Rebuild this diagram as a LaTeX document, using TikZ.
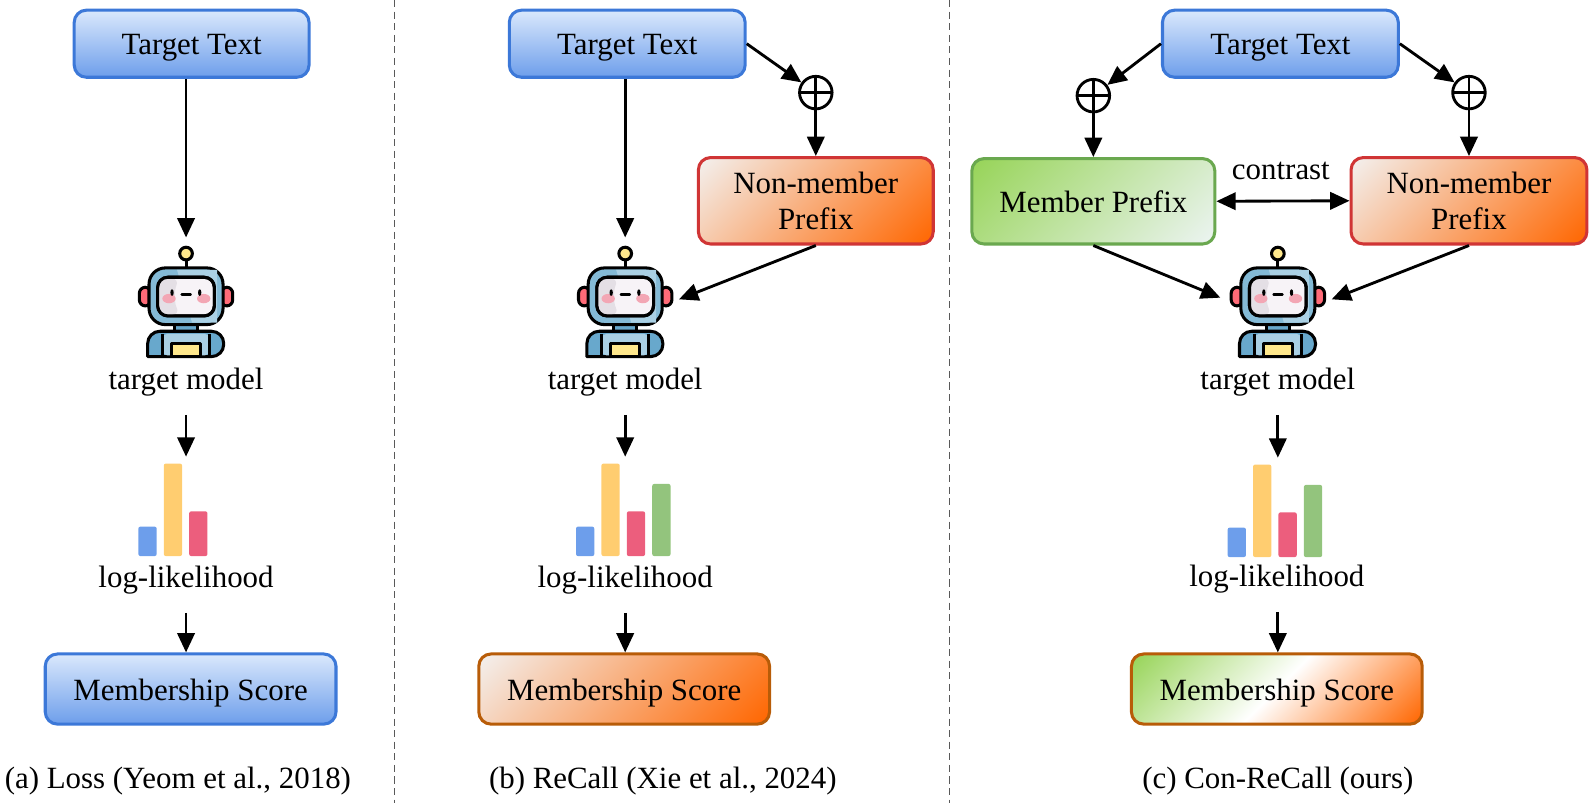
\documentclass[tikz,border=0pt]{standalone}
\usepackage{fontspec}
\setmainfont{Liberation Serif}
\usetikzlibrary{arrows.meta,positioning}
\definecolor{boxblue}{RGB}{60,120,216}
\definecolor{lightblue}{RGB}{218,232,252}
\definecolor{midblue}{RGB}{109,158,235}
\definecolor{boxred}{RGB}{208,53,53}
\definecolor{boxgreen}{RGB}{106,168,79}
\definecolor{leafgreen}{RGB}{151,212,88}
\definecolor{boxbrown}{RGB}{184,92,8}
\definecolor{deeporange}{RGB}{255,102,0}
\definecolor{palegray}{RGB}{243,240,238}
\definecolor{palegreen}{RGB}{236,244,242}
\definecolor{baryellow}{RGB}{255,205,112}
\definecolor{barred}{RGB}{236,94,125}
\definecolor{bargreen}{RGB}{147,196,125}
\definecolor{robotframe}{RGB}{132,186,214}
\definecolor{robotdark}{RGB}{104,168,204}
\definecolor{robotlight}{RGB}{170,208,228}
\definecolor{robotear}{RGB}{255,107,120}
\definecolor{robotcheek}{RGB}{243,166,180}
\definecolor{robotscreen}{RGB}{247,243,247}
\definecolor{robotshade}{RGB}{228,223,229}
\definecolor{robottag}{RGB}{255,232,140}
\pgfdeclarehorizontalshading{prefixfill}{100bp}{color(0bp)=(palegray); color(15bp)=(palegray); color(85bp)=(deeporange); color(100bp)=(deeporange)}
\pgfdeclarehorizontalshading{memberfill}{100bp}{color(0bp)=(leafgreen); color(15bp)=(leafgreen); color(85bp)=(palegreen); color(100bp)=(palegreen)}
\pgfdeclarehorizontalshading{scorefill}{100bp}{color(0bp)=(palegray); color(15bp)=(palegray); color(85bp)=(deeporange); color(100bp)=(deeporange)}
\pgfdeclarehorizontalshading{contrastfill}{100bp}{color(0bp)=(leafgreen); color(15bp)=(leafgreen); color(50bp)=(white); color(85bp)=(deeporange); color(100bp)=(deeporange)}
\tikzset{
	roundbox/.style={
		rectangle,
		rounded corners=6pt,
		line width=1.5pt,
		align=center,
		inner sep=0pt,
	},
	bluebox/.style={
		roundbox,
		draw=boxblue,
		top color=lightblue,
		bottom color=midblue,
	},
	lowtext/.style={
		text height=14pt,
		text depth=3pt,
	},
	prefixbox/.style={
		roundbox,
		draw=boxred,
		shade,
		shading=prefixfill,
		shading angle=-45,
	},
	memberbox/.style={
		roundbox,
		draw=boxgreen,
		shade,
		shading=memberfill,
		shading angle=-45,
	},
	scorebox/.style={
		roundbox,
		lowtext,
		draw=boxbrown,
		shade,
		shading=#1,
		shading angle=-45,
	},
	link/.style={
		-{Triangle[length=9.5pt,width=8.5pt]},
		line width=1.4pt,
	},
	biglink/.style={
		{Triangle[length=9.5pt,width=8.5pt]}-{Triangle[length=9.5pt,width=8.5pt]},
		line width=1.4pt,
	},
	divider/.style={
		dash pattern=on 3.5pt off 2.2pt,
		gray!70!black,
		line width=0.8pt,
	},
	oplus/.style={
		circle,
		draw,
		line width=1.4pt,
		minimum size=16pt,
		inner sep=0pt,
		path picture={
			\draw[line width=1.4pt] (path picture bounding box.north) -- (path picture bounding box.south);
			\draw[line width=1.4pt] (path picture bounding box.west) -- (path picture bounding box.east);
		},
	},
	tag/.style={
		inner sep=0pt,
		text height=10pt,
		text depth=3pt,
	},
	robotbox/.style={
		inner sep=0pt,
		minimum width=46pt,
		minimum height=54pt,
	},
	barsbox/.style={
		inner sep=0pt,
		minimum width=46.5pt,
		minimum height=45.5pt,
	},
	bar/.style={
		rounded corners=1pt,
	},
	pics/robot/.style={
		code={
			\begin{scope}[x=0.164pt,y=-0.164pt,shift={(-197,-216)},line width=1.5pt,line join=round]
				\draw (197,90) -- (197,114);
				\filldraw[fill=robottag] (197,71) circle [radius=19];
				\filldraw[fill=robotear,rounded corners=3pt] (57,172) rectangle (92,228);
				\filldraw[fill=robotear,rounded corners=3pt] (302,172) rectangle (337,228);
				\filldraw[fill=robotdark] (162,280) rectangle (232,304);
				\filldraw[fill=robotdark,rounded corners=6pt] (82,380) -- (82,304) -- (310,304) -- (310,380) [sharp corners] -- cycle;
				\fill[robotlight,rounded corners=2pt] (128,312) -- (266,312) -- (266,376) -- (128,376) -- cycle;
				\draw (126,312) -- (126,380);
				\draw (268,312) -- (268,380);
				\filldraw[fill=robottag] (154,342) rectangle (240,380);
				\filldraw[fill=robotframe,rounded corners=8pt] (86,114) rectangle (308,284);
				\fill[robotlight] (170,120) -- (290,120) -- (290,278) -- (215,278) -- cycle;
				\filldraw[fill=robotscreen,rounded corners=5pt] (112,142) rectangle (282,258);
				\fill[robotshade,rounded corners=4pt] (116,146) -- (178,146) .. controls (162,180) and (162,220) .. (180,254) -- (116,254) -- cycle;
				\draw[line width=1.5pt,rounded corners=5pt] (112,142) rectangle (282,258);
				\fill[robotcheek] (146,206) ellipse [x radius=20,y radius=14];
				\fill[robotcheek] (250,206) ellipse [x radius=20,y radius=14];
				\fill (155,188) ellipse [x radius=5,y radius=10];
				\fill (238,188) ellipse [x radius=5,y radius=10];
				\draw[line width=1.2pt,line cap=round] (184,194) -- (211,194);
			\end{scope}
		}
	},
	pics/bars/.style={
		code={
			\fill[bar,midblue] (0,0) rectangle (18,-29);
			\fill[bar,baryellow] (25,0) rectangle (43,-91);
			\fill[bar,barred] (50,0) rectangle (68,-44);
		}
	},
}
\begin{document}
\begin{tikzpicture}[x=0.5pt,y=-0.5pt,font=\fontsize{15.2}{18}\selectfont]
	\useasboundingbox (0,0) rectangle (1568,792);

	\coordinate (topA) at (388,0);
	\coordinate (botA) at (388,790);
	\coordinate (topB) at (934,0);
	\coordinate (botB) at (934,790);
	\draw[divider] (topA) -- (botA);
	\draw[divider] (topB) -- (botB);

	% first column
	\node[bluebox,lowtext,minimum width=115.5pt,minimum height=33pt] (text1) at (188.5,43) {Target Text};
	\node[robotbox] (robot1) at (183,297) {};
	\pic at (robot1) {robot};
	\node[tag,below=5.5pt of robot1] (model1) {target model};
	\node[barsbox,below=33pt of model1] (bars1) {};
	\pic at (bars1.south west) {bars};
	\node[tag,below=5.5pt of bars1] (loglik1) {log-likelihood};
	\node[bluebox,lowtext,minimum width=143pt,minimum height=34.5pt,below=28.5pt of loglik1,xshift=2.25pt] (score1) {Membership Score};
	\node (cap1) at (175,768) {(a) Loss (Yeom et al., 2018)};

	\draw[link,shorten >=4.5pt] (robot1 |- text1.south) -- (robot1.north);
	\draw[link,shorten <=9.5pt,shorten >=3pt] (robot1 |- model1.south) -- (robot1 |- bars1.north);
	\draw[link,shorten <=9pt] (robot1 |- loglik1.south) -- (robot1 |- score1.north);

	% second column
	\node[bluebox,lowtext,minimum width=116pt,minimum height=33pt] (text2) at (617,43) {Target Text};
	\node[prefixbox,minimum width=115.5pt,minimum height=42.5pt] (prefix2) at (802.5,197.5) {Non-member\\Prefix};
	\node[oplus,above=22.5pt of prefix2] (plus2) {};
	\node[robotbox] (robot2) at (615,297) {};
	\pic at (robot2) {robot};
	\node[tag,below=5.5pt of robot2] (model2) {target model};
	\node[barsbox,below=33pt of model2,xshift=-0.75pt] (bars2) {};
	\pic at (bars2.south west) {bars};
	\fill[bar,bargreen] ([xshift=37.5pt]bars2.south west) rectangle ++(18,-71);
	\node[tag,below=5.5pt of bars2,xshift=0.75pt] (loglik2) {log-likelihood};
	\node[scorebox=scorefill,minimum width=143pt,minimum height=34.5pt,below=28.5pt of loglik2,xshift=-0.5pt] (score2) {Membership Score};
	\node (cap2) at (652,768) {(b) ReCall (Xie et al., 2024)};

	\draw[link,shorten >=4.5pt] (robot2 |- text2.south) -- (robot2.north);
	\draw[link] (text2.east) -- (plus2);
	\draw[link] (plus2) -- (plus2 |- prefix2.north);
	\draw[link,shorten >=3.5pt] (prefix2.south) -- (robot2.east);
	\draw[link,shorten <=9.5pt,shorten >=3pt] (robot2 |- model2.south) -- (robot2 |- bars2.north);
	\draw[link,shorten <=9pt] (robot2 |- loglik2.south) -- (robot2 |- score2.north);

	% third column
	\node[bluebox,lowtext,minimum width=116pt,minimum height=33pt] (text3) at (1259.5,43) {Target Text};
	\node[memberbox,minimum width=119.5pt,minimum height=42pt] (member3) at (1075.5,198) {Member Prefix};
	\node[prefixbox,minimum width=116pt,minimum height=42.5pt] (prefix3) at (1445,197.5) {Non-member\\Prefix};
	\node[oplus,above=21.5pt of member3] (plusm3) {};
	\node[oplus,above=22.5pt of prefix3] (plusp3) {};
	\node[robotbox] (robot3) at (1257,297) {};
	\pic at (robot3) {robot};
	\node[tag,below=5.5pt of robot3] (model3) {target model};
	\node[barsbox,below=33.5pt of model3,xshift=-1.25pt] (bars3) {};
	\pic at (bars3.south west) {bars};
	\fill[bar,bargreen] ([xshift=37.5pt]bars3.south west) rectangle ++(18,-71);
	\node[tag,below=4.5pt of bars3,xshift=0.75pt] (loglik3) {log-likelihood};
	\node[scorebox=contrastfill,minimum width=143pt,minimum height=34.5pt,below=29pt of loglik3] (score3) {Membership Score};
	\node (cap3) at (1257,768) {(c) Con-ReCall (ours)};

	\draw[link] (text3.west) -- (plusm3);
	\draw[link] (text3.east) -- (plusp3);
	\draw[link] (plusm3) -- (plusm3 |- member3.north);
	\draw[link] (plusp3) -- (plusp3 |- prefix3.north);
	\draw[biglink] (member3.east) -- node[above=6.5pt,xshift=-1pt] (contrast3) {contrast} (prefix3.west);
	\draw[link,shorten >=5.5pt] (member3.south) -- (robot3.west);
	\draw[link,shorten >=3.5pt] (prefix3.south) -- (robot3.east);
	\draw[link,shorten <=9.5pt,shorten >=3pt] (robot3 |- model3.south) -- (robot3 |- bars3.north);
	\draw[link,shorten <=9pt] (robot3 |- loglik3.south) -- (robot3 |- score3.north);
\end{tikzpicture}
\end{document}
